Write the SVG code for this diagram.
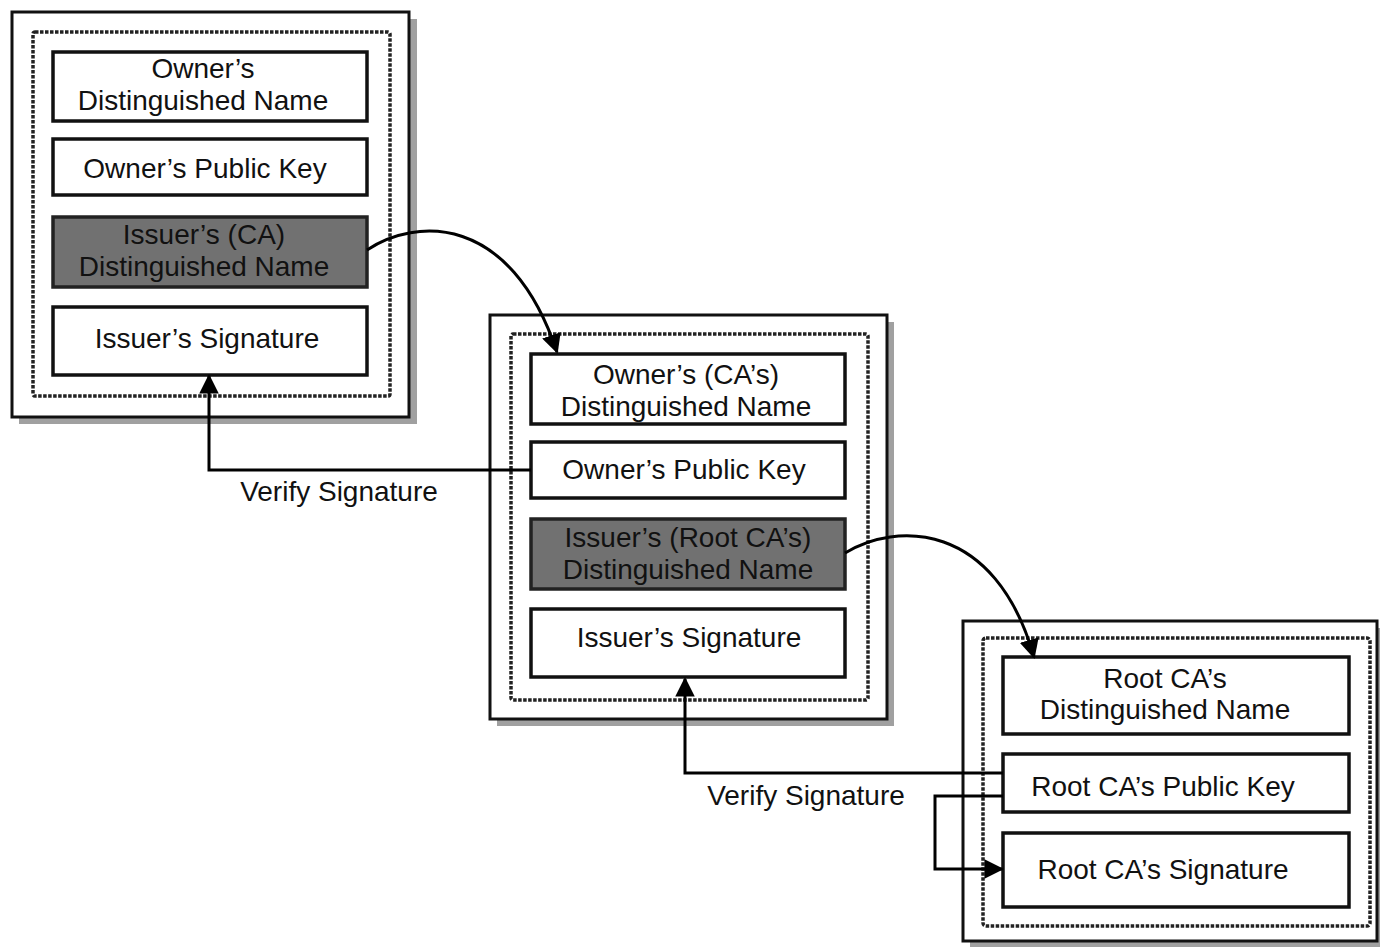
<svg xmlns="http://www.w3.org/2000/svg" width="1380" height="947" viewBox="0 0 1380 947">
<style>
.shadow{fill:#a0a0a0}
.outer{fill:#fff;stroke:#111;stroke-width:3}
.dash{fill:none;stroke:#222;stroke-width:3.5;stroke-dasharray:3.5 1.5}
.box{fill:#fff;stroke:#111;stroke-width:3.5}
.dark{fill:#717171;stroke:#222;stroke-width:3.5}
text{font-family:"Liberation Sans",Arial,sans-serif;font-size:28px;fill:#111;text-anchor:middle}
.conn{fill:none;stroke:#000;stroke-width:3}
</style>
<defs>
<marker id="ah" viewBox="0 0 10 10" refX="9" refY="5" markerWidth="6.5" markerHeight="6.5" markerUnits="strokeWidth" orient="auto">
<path d="M0,0 L10,5 L0,10 z" fill="#000"/>
</marker>
</defs>
<rect width="1380" height="947" fill="#fff"/>

<g id="cert1">
<rect class="shadow" x="19" y="19" width="398" height="405"/>
<rect class="outer" x="12" y="12" width="397" height="405"/>
<rect class="dash" x="33" y="32" width="357" height="364" rx="2"/>
<g id="c1-dn"><rect class="box" x="53" y="52" width="314" height="69"/><text x="203" y="78">Owner’s</text><text x="203" y="110">Distinguished Name</text></g>
<g id="c1-pk"><rect class="box" x="53" y="139" width="314" height="56"/><text x="205" y="178">Owner’s Public Key</text></g>
<g id="c1-iss"><rect class="dark" x="53" y="217" width="314" height="70"/><text x="204" y="244" fill="#222">Issuer’s (CA)</text><text x="204" y="276" fill="#222">Distinguished Name</text></g>
<g id="c1-sig"><rect class="box" x="53" y="307" width="314" height="68"/><text x="207" y="348">Issuer’s Signature</text></g>
</g>

<g id="cert2">
<rect class="shadow" x="497" y="322" width="397" height="404"/>
<rect class="outer" x="490" y="315" width="397" height="404"/>
<rect class="dash" x="511" y="334" width="357" height="366" rx="2"/>
<g id="c2-dn"><rect class="box" x="531" y="354" width="314" height="70"/><text x="686" y="384">Owner’s (CA’s)</text><text x="686" y="416">Distinguished Name</text></g>
<g id="c2-pk"><rect class="box" x="531" y="442" width="314" height="56"/><text x="684" y="479">Owner’s Public Key</text></g>
<g id="c2-iss"><rect class="dark" x="531" y="519" width="314" height="70"/><text x="688" y="547" fill="#222">Issuer’s (Root CA’s)</text><text x="688" y="579" fill="#222">Distinguished Name</text></g>
<g id="c2-sig"><rect class="box" x="531" y="609" width="314" height="68"/><text x="689" y="647">Issuer’s Signature</text></g>
</g>

<g id="cert3">
<rect class="shadow" x="970" y="628" width="415" height="320"/>
<rect class="outer" x="963" y="621" width="414" height="320"/>
<rect class="dash" x="983" y="638" width="387" height="288" rx="3"/>
<g id="c3-dn"><rect class="box" x="1003" y="657" width="346" height="77"/><text x="1165" y="688">Root CA’s</text><text x="1165" y="719">Distinguished Name</text></g>
<g id="c3-pk"><rect class="box" x="1003" y="754" width="346" height="58"/><text x="1163" y="796">Root CA’s Public Key</text></g>
<g id="c3-sig"><rect class="box" x="1003" y="833" width="346" height="74"/><text x="1163" y="879">Root CA’s Signature</text></g>
</g>

<g id="connectors">
<path class="conn" d="M367,250 C415,218 510,212 557,352" marker-end="url(#ah)"/>
<path class="conn" d="M845,553 C895,522 995,520 1034,657" marker-end="url(#ah)"/>
<polyline class="conn" points="531,470 209,470 209,376" marker-end="url(#ah)"/>
<polyline class="conn" points="1003,773 685,773 685,679" marker-end="url(#ah)"/>
<polyline class="conn" points="1003,796 935,796 935,869 1002,869" marker-end="url(#ah)"/>
<text x="339" y="501">Verify Signature</text>
<text x="806" y="805">Verify Signature</text>
</g>
</svg>
